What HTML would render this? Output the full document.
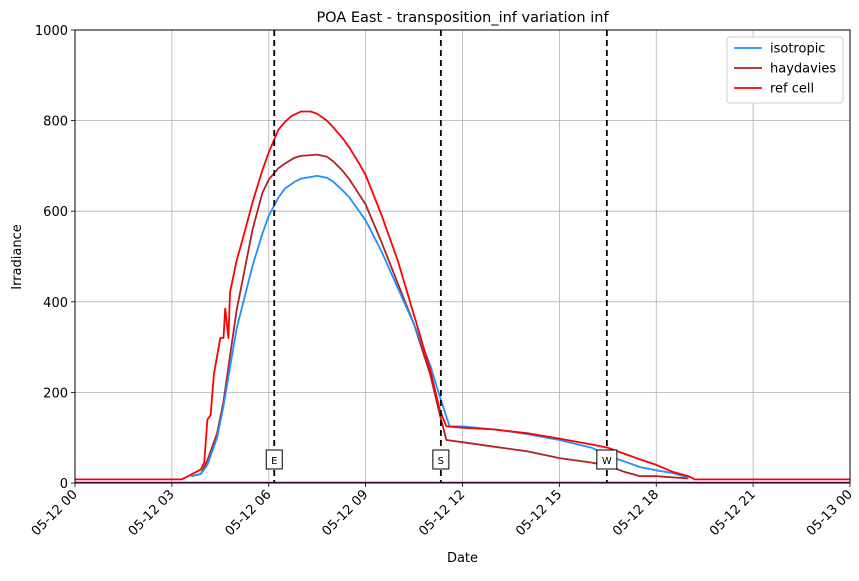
<!DOCTYPE html>
<html><head><meta charset="utf-8"><style>
body{margin:0;background:#fff;font-family:"Liberation Sans","DejaVu Sans",sans-serif;}
svg text{font-family:"DejaVu Sans","Liberation Sans",sans-serif;}
</style></head><body>
<svg id="c" width="859" height="576" xmlns="http://www.w3.org/2000/svg"></svg>
<script>
const xTickHours=[0,3,6,9,12,15,18,21,24];
const xTickLabels=["05-12 00","05-12 03","05-12 06","05-12 09","05-12 12","05-12 15","05-12 18","05-12 21","05-13 00"];
const yTicks=[0,200,400,600,800,1000];
const refHours=[0,3.3,3.5,3.9,4.0,4.1,4.2,4.3,4.5,4.6,4.65,4.75,4.8,5.0,5.2,5.5,5.8,6.0,6.3,6.5,6.7,7.0,7.3,7.5,7.8,8.0,8.3,8.5,8.8,9.0,9.5,10.0,10.5,11.0,11.3,11.5,12,13,14,15,16,16.5,17,17.5,18,18.5,19.0,19.2,24];
const refVals=[8,8,15,30,45,140,150,240,320,320,385,320,420,490,540,620,690,730,780,797,810,820,820,815,800,785,760,740,705,680,590,490,370,250,160,125,122,118,110,98,85,78,65,52,40,25,15,8,8];
const isoHours=[3.6,3.9,4.1,4.4,4.6,5.0,5.5,5.8,6.0,6.3,6.5,6.8,7.0,7.5,7.8,8.0,8.3,8.5,9.0,9.5,10.0,10.5,11.0,11.3,11.6,12,13,14,15,16,16.5,17,17.5,18,18.5,19.0];
const isoVals=[15,20,40,100,170,340,480,550,590,630,650,665,672,678,674,665,645,630,580,510,430,350,260,190,125,125,118,108,95,78,60,48,35,28,22,12];
const hayHours=[3.6,3.9,4.1,4.4,4.6,5.0,5.5,5.8,6.0,6.3,6.5,6.8,7.0,7.5,7.8,8.0,8.3,8.5,9.0,9.5,10.0,10.5,11.0,11.3,11.5,12,13,14,15,16,16.5,17,17.5,18,19.0];
const hayVals=[15,20,50,110,180,380,560,640,670,695,705,718,722,725,720,710,688,670,615,530,440,350,240,150,95,90,80,70,55,45,38,25,15,15,10];
const markerHours=[6.17,11.33,16.47];
const markerLabels=["E","S","W"];

const X0=75,X1=850,Y0=483,Y1=30;
const sx=h=>X0+(h/24)*(X1-X0);
const sy=v=>Y0-(v/1000)*(Y0-Y1);
const svg=document.getElementById('c');
const NS="http://www.w3.org/2000/svg";
function mk(tag,at,txt){const e=document.createElementNS(NS,tag);for(const k in at)e.setAttribute(k,at[k]);if(txt!=null)e.textContent=txt;svg.appendChild(e);return e;}

xTickHours.forEach((h,i)=>{
 const g=mk('line',{x1:sx(h),x2:sx(h),y1:Y1,y2:Y0,stroke:'#b0b0b0','stroke-width':0.8});
 
 
 mk('line',{x1:sx(h),x2:sx(h),y1:Y0,y2:Y0+4,stroke:'#000','stroke-width':0.8});
 const t=mk('text',{x:sx(h)+3,y:Y0+12,'font-size':13,'text-anchor':'end',transform:`rotate(-45 ${sx(h)+3} ${Y0+12})`},xTickLabels[i]);
 
 
});
yTicks.forEach(v=>{
 const g=mk('line',{x1:X0,x2:X1,y1:sy(v),y2:sy(v),stroke:'#b0b0b0','stroke-width':0.8});
 
 
 mk('line',{x1:X0-4,x2:X0,y1:sy(v),y2:sy(v),stroke:'#000','stroke-width':0.8});
 const t=mk('text',{x:X0-7,y:sy(v)+5,'font-size':13,'text-anchor':'end'},v);
 
 
});
function line(hs,vs,color,name){
 const d=hs.map((h,i)=>(i?'L':'M')+sx(h).toFixed(1)+','+sy(vs[i]).toFixed(1)).join('');
 const p=mk('path',{d:d,fill:'none',stroke:color,'stroke-width':1.8,'stroke-linejoin':'round'});
 
 
}
line(hayHours,hayVals,'#b22222','haydavies-line');
line(isoHours,isoVals,'#1e90ff','isotropic-line');
line(refHours,refVals,'#ff0000','ref-cell-line');
const zl=mk('line',{x1:X0,x2:X1,y1:Y0-0.5,y2:Y0-0.5,stroke:'#800080','stroke-width':1.6});


markerHours.forEach((h,i)=>{
 const l=mk('line',{x1:sx(h),x2:sx(h),y1:Y1,y2:Y0,stroke:'#000','stroke-width':1.8,'stroke-dasharray':'6,4'});
 
 
 const w=markerLabels[i]==='W'?20:16;
 mk('rect',{x:sx(h)-w/2,y:450,width:w,height:19,fill:'#fff',stroke:'#000','stroke-width':1});
 const t=mk('text',{x:sx(h),y:464,'font-size':10,'text-anchor':'middle'},markerLabels[i]);
 
 
});
const fr=mk('rect',{x:X0,y:Y1,width:X1-X0,height:Y0-Y1,fill:'none',stroke:'#000','stroke-width':1});


const ti=mk('text',{x:(X0+X1)/2,y:22,'font-size':14.5,'text-anchor':'middle'},'POA East - transposition_inf variation inf');


const xt=mk('text',{x:(X0+X1)/2,y:562,'font-size':13,'text-anchor':'middle'},'Date');


const yt=mk('text',{x:21,y:257,'font-size':13,'text-anchor':'middle',transform:'rotate(-90 21 257)'},'Irradiance');


const lg=mk('rect',{x:727,y:37,width:116,height:66,rx:3,fill:'#fff',stroke:'#ccc','stroke-width':1});


[['isotropic','#1e90ff'],['haydavies','#b22222'],['ref cell','#ff0000']].forEach((e,i)=>{
 const y=48+i*20;
 mk('line',{x1:734,x2:762,y1:y,y2:y,stroke:e[1],'stroke-width':1.8});
 const t=mk('text',{x:770,y:y+4.5,'font-size':13},e[0]);
 
 
});
</script>
</body></html>
